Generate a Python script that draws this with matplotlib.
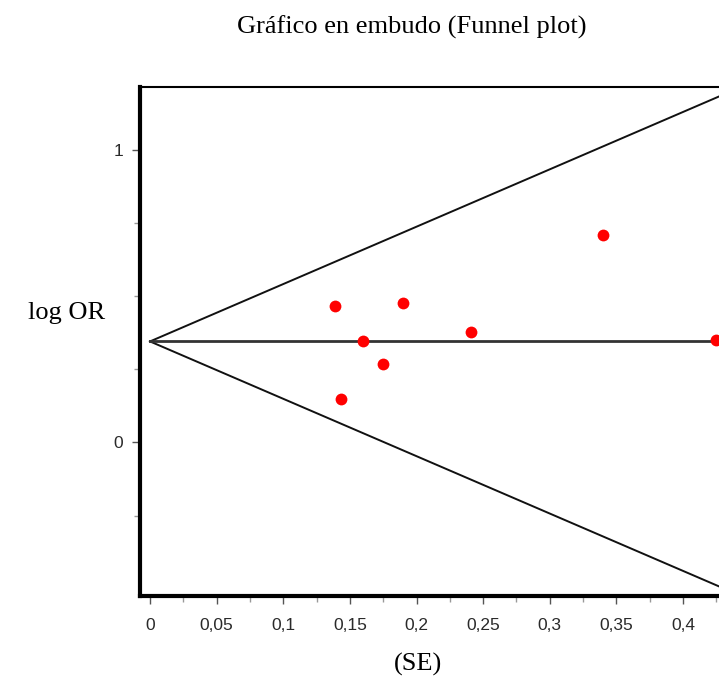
import matplotlib.pyplot as plt
import numpy as np

# estudios: error estandar (SE) y log OR
se = [0.139, 0.143, 0.160, 0.1745, 0.190, 0.241, 0.340, 0.425]
log_or = [0.465, 0.148, 0.345, 0.269, 0.476, 0.376, 0.707, 0.351]
pooled = 0.345
z = 1.96
xticks = [0, 0.05, 0.1, 0.15, 0.2, 0.25, 0.3, 0.35, 0.4]
xtick_labels = ['0', '0,05', '0,1', '0,15', '0,2', '0,25', '0,3', '0,35', '0,4']
yticks = [0, 1]

fig = plt.figure(figsize=(7.19, 6.82), dpi=100)
ax = fig.add_axes([0.1947, 0.126, 0.8053, 0.7463])

x_max = 0.427
se_line = np.array([0, x_max + 0.01])
ax.plot(se_line, pooled + z * se_line, color='#111111', lw=1.4)
ax.plot(se_line, pooled - z * se_line, color='#111111', lw=1.4)
ax.plot(se_line, [pooled, pooled], color='#333333', lw=2.0)
ax.plot(se, log_or, 'o', color='#ff0000', markersize=8.5, markeredgewidth=0,
        clip_on=False)

ax.set_xlim(-0.0075, x_max)
ax.set_ylim(-0.525, 1.214)

ax.set_xticks(xticks)
ax.set_xticklabels(xtick_labels)
ax.set_xticks(np.arange(0.025, 0.43, 0.05), minor=True)
ax.set_yticks(yticks)
ax.set_yticks([-0.25, 0.25, 0.5, 0.75], minor=True)
ax.tick_params(axis='x', which='major', pad=10)
ax.tick_params(axis='y', which='major', pad=6)
ax.tick_params(which='major', length=6, width=1, color='#555555',
               labelsize=12.5, labelcolor='#2a2a2a',
               labelfontfamily='Liberation Sans')
ax.tick_params(which='minor', length=4, width=1, color='#999999')

ax.spines['right'].set_visible(False)
ax.spines['left'].set_linewidth(3)
ax.spines['bottom'].set_linewidth(3)
ax.spines['top'].set_linewidth(1.5)

fig.text(0.572, 0.96, 'Gráfico en embudo (Funnel plot)', ha='center', va='center',
         family='Liberation Serif', fontsize=19)
fig.text(0.092, 0.541, 'log OR', ha='center', va='center',
         family='Liberation Serif', fontsize=19)
fig.text(0.581, 0.026, '(SE)', ha='center', va='center',
         family='Liberation Serif', fontsize=19)

fig.savefig('out.png', dpi=100)
